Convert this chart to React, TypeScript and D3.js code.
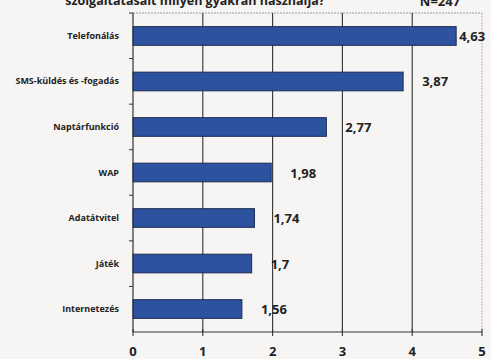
import React from "react";
import * as d3 from "d3";

const categories = [
  "Telefonálás",
  "SMS-küldés és -fogadás",
  "Naptárfunkció",
  "WAP",
  "Adatátvitel",
  "Játék",
  "Internetezés",
];
const values = [4.63, 3.87, 2.77, 1.98, 1.74, 1.7, 1.56];
const xTicks = [0, 1, 2, 3, 4, 5];
const title = "szolgáltatásait milyen gyakran használja?";
const sampleLabel = "N=247";

const W = 491;
const H = 359;
const m = { left: 133, right: 9, top: 13, bottom: 27 };

const fmt = (v: number) => String(v).replace(".", ",");

export default function App() {
  const x = d3.scaleLinear().domain([0, 5]).range([m.left, W - m.right]);
  const y = d3
    .scaleBand<string>()
    .domain(categories)
    .range([m.top, H - m.bottom])
    .paddingInner(0.59)
    .paddingOuter(0.3);
  const y0 = m.top;
  const y1 = H - m.bottom;
  const bandH = (y1 - y0) / categories.length;
  const bounds = d3.range(categories.length).map((i) => y0 + i * bandH);
  const font = "'Open Sans', 'Noto Sans', sans-serif";

  return (
    <svg
      width={W}
      height={H}
      style={{ position: "absolute", left: 0, top: 0, background: "#f6f5f3" }}
      fontFamily={font}
    >
      <rect x={0} y={0} width={W} height={H} fill="#f6f5f3" />
      {/* heading line, running off the top edge */}
      <text x={195} y={5} textAnchor="middle" fontSize={12.5} fontWeight={700} fill="#222">
        {title}
      </text>
      <text x={440} y={6} textAnchor="middle" fontSize={13} fontWeight={700} fill="#222">
        {sampleLabel}
      </text>

      {/* plot frame: top and right edges */}
      <line x1={m.left} x2={x(5)} y1={y0} y2={y0} stroke="#9a9a9a" strokeWidth={1} strokeDasharray="2 1" />
      <line x1={x(5)} x2={x(5)} y1={y0} y2={y1} stroke="#c9a9b4" strokeWidth={1} strokeDasharray="2 1" />

      {/* vertical gridlines */}
      {xTicks.slice(1, -1).map((t) => (
        <line key={t} x1={x(t)} x2={x(t)} y1={y0} y2={y1} stroke="#333" strokeWidth={1.1} />
      ))}

      {/* bars */}
      {categories.map((c, i) => (
        <rect
          key={c}
          x={x(0)}
          y={y(c)!}
          width={x(values[i]) - x(0)}
          height={y.bandwidth()}
          fill="#2c52a0"
          stroke="#1b2b50"
          strokeWidth={1}
        />
      ))}

      {/* value labels; the longest bar keeps its label tight to the end */}
      {categories.map((c, i) => (
        <text
          key={c}
          x={i === 0 ? x(values[i]) + 3 : x(values[i]) + 19}
          y={y(c)! + y.bandwidth() / 2 + 5}
          fontSize={13}
          fontWeight={700}
          fill="#222"
        >
          {fmt(values[i])}
        </text>
      ))}

      {/* category axis */}
      <line x1={m.left} x2={m.left} y1={y0} y2={y1} stroke="#333" strokeWidth={1.2} />
      {bounds.map((b, i) => (
        <line key={i} x1={m.left - 4} x2={m.left} y1={b} y2={b} stroke="#333" strokeWidth={1} />
      ))}
      {categories.map((c) => (
        <text
          key={c}
          x={m.left - 14}
          y={y(c)! + y.bandwidth() / 2 + 3}
          textAnchor="end"
          fontSize={9}
          fontWeight={700}
          fill="#222"
        >
          {c}
        </text>
      ))}

      {/* value axis */}
      <line x1={m.left} x2={x(5)} y1={y1} y2={y1} stroke="#333" strokeWidth={1.2} />
      {xTicks.map((t) => (
        <g key={t}>
          <line x1={x(t)} x2={x(t)} y1={y1 - 3} y2={y1 + 4} stroke="#333" strokeWidth={1.1} />
          <text x={x(t)} y={356} textAnchor="middle" fontSize={13} fontWeight={700} fill="#222">
            {t}
          </text>
        </g>
      ))}
    </svg>
  );
}
